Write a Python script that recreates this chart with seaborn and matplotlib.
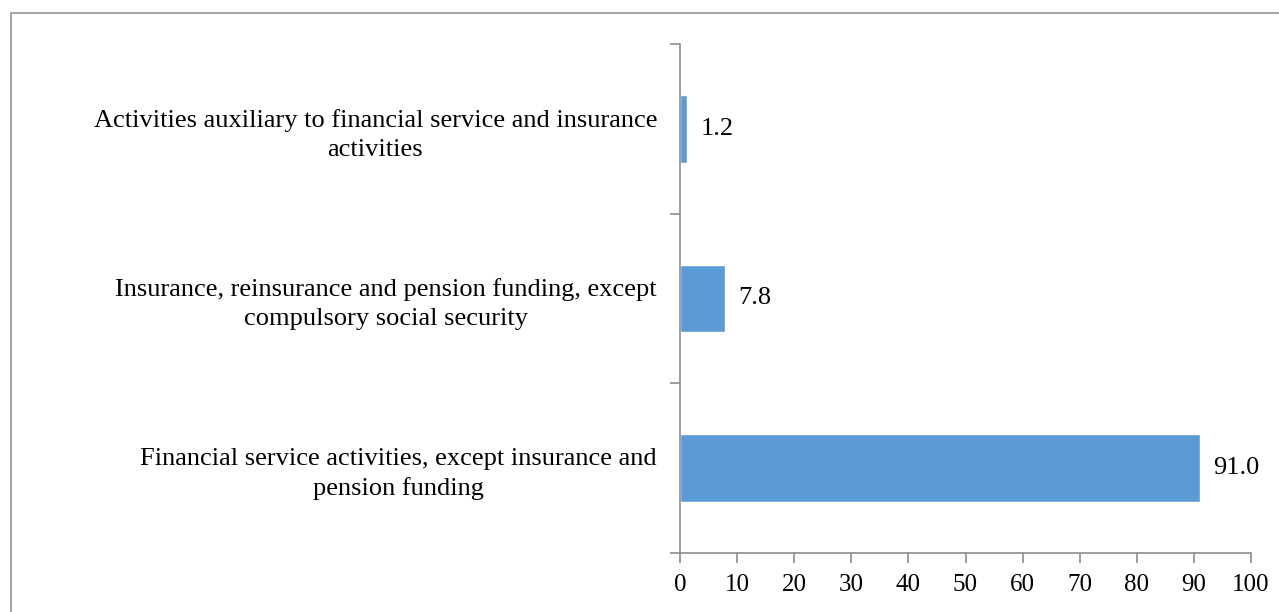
import matplotlib
matplotlib.use("Agg")
import matplotlib.pyplot as plt
from matplotlib.patches import Rectangle
import seaborn as sns
import pandas as pd

categories = [
    "Activities auxiliary to financial service and insurance\nactivities",
    "Insurance, reinsurance and pension funding, except\ncompulsory social security",
    "Financial service activities, except insurance and\npension funding",
]
shares = [1.2, 7.8, 91.0]
x_ticks = [0, 10, 20, 30, 40, 50, 60, 70, 80, 90, 100]

sns.set_theme(style="white")
plt.rcParams["font.family"] = ["Liberation Serif", "DejaVu Serif"]

df = pd.DataFrame({"category": categories, "share": shares})

fig = plt.figure(figsize=(12.79, 6.12), dpi=100)
ax = fig.add_axes([680 / 1279, 1 - 553 / 612, (1251 - 680) / 1279, (553 - 44) / 612])

sns.barplot(data=df, x="share", y="category", order=categories, orient="h",
            color="#5B9BD5", saturation=1, width=0.4, ax=ax)

axis_grey = "#8C8C8C"
ax.set_xlim(0, 100)
ax.set_ylim(2.5, -0.5)
ax.set_xticks(x_ticks)
ax.set_xticklabels([str(t) for t in x_ticks])
ax.set_xlabel("")
ax.set_ylabel("")

ax.set_yticks([0, 1, 2])
ax.set_yticklabels(categories, multialignment="center", linespacing=1.4)
ax.set_yticks([-0.5, 0.5, 1.5, 2.5], minor=True)
ax.tick_params(axis="y", which="major", length=0, pad=16.5, labelsize=19, colors="black")
ax.tick_params(axis="y", which="minor", length=7, width=1.2, color=axis_grey, left=True)
ax.tick_params(axis="x", which="major", length=7, width=1.2, color=axis_grey,
               bottom=True, pad=8, labelsize=18, labelcolor="black")

for side in ["top", "right"]:
    ax.spines[side].set_visible(False)
for side in ["left", "bottom"]:
    ax.spines[side].set_color(axis_grey)
    ax.spines[side].set_linewidth(1.2)

for i, v in enumerate(shares):
    ax.annotate(f"{v:.1f}", xy=(v, i), xytext=(10, 0), textcoords="offset points",
                ha="left", va="center", fontsize=19, color="black")

# Chart frame
fig.patches.append(Rectangle((11 / 1279, -0.1), 1.2, 1.1 - 13 / 612,
                             transform=fig.transFigure, fill=False,
                             edgecolor="#A6A6A6", linewidth=1.5, zorder=0))

fig.savefig("out.png", dpi=100)
